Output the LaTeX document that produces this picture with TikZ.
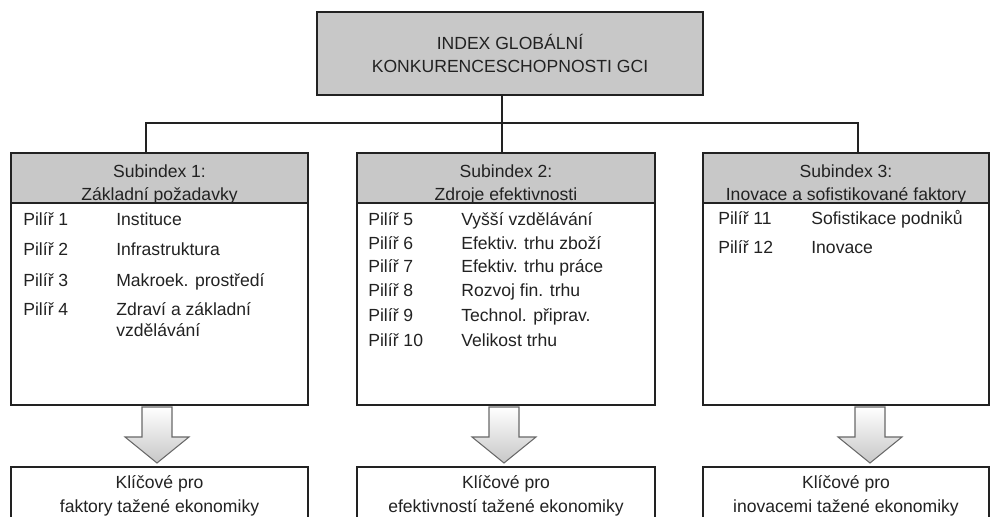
\documentclass[tikz,border=0pt]{standalone}
\usepackage{fontspec}
\setmainfont{Liberation Sans}
\usetikzlibrary{positioning,calc}
\definecolor{c0}{RGB}{34,34,34}
\definecolor{c1}{RGB}{200,200,200}
\definecolor{c2}{RGB}{105,105,105}
\tikzset{%
  box/.style={rectangle,draw=c0,line width=1.1pt,outer sep=0pt,inner sep=0pt,
    text=c0,align=center,font=\fontsize{10}{13.1}\selectfont},
  head/.style={box,fill=c1,minimum height=1cm,minimum width=#1},
  body/.style={box,fill=white,minimum height=4.04cm,minimum width=#1},
  key/.style={box,fill=white,minimum height=1.14cm,minimum width=#1,
    font=\fontsize{10}{13.7}\selectfont},
  htext/.style={inner sep=0pt,text=c0,align=center,font=\fontsize{10}{13.1}\selectfont},
  row/.style={anchor=base west,inner sep=0pt,text=c0,align=left,
    font=\fontsize{10}{13.7}\selectfont},
  link/.style={draw=c0,line width=1.1pt}
}
\NewDocumentCommand\pilrow{mm}{\makebox[1.86cm][l]{#1}#2}
\NewDocumentCommand\blkarrow{}{%
  \shadedraw[top color=white,bottom color=black!22,draw=c2,line width=0.6pt]
  (-0.30,0) -- (-0.30,-0.60) -- (-0.64,-0.60) -- (0,-1.12)
  -- (0.64,-0.60) -- (0.30,-0.60) -- (0.30,0) -- cycle;
}

\begin{document}
\begin{tikzpicture}
  \useasboundingbox (0,0) rectangle (19.82,-10.34);
  %% GCI
  \node[box,fill=c1,minimum width=7.72cm,minimum height=1.66cm] (gci) at (10.20,-1.07)
    {INDEX GLOBÁLNÍ\\KONKURENCESCHOPNOSTI GCI};
  %% Subindexes
  \node[head=5.94cm] (sub1) at (3.19,-3.56) {};
  \node[head=5.96cm] (sub2) at (10.12,-3.56) {};
  \node[head=5.72cm] (sub3) at (16.92,-3.56) {};
  \node[body=5.94cm,below=0pt of sub1] (body1) {};
  \node[body=5.96cm,below=0pt of sub2] (body2) {};
  \node[body=5.72cm,below=0pt of sub3] (body3) {};
  \node[htext] (t1) at ($(sub1.center)+(0,-0.12)$) {Subindex 1:\\Základní požadavky};
  \node[htext] (t2) at ($(sub2.center)+(0,-0.12)$) {Subindex 2:\\Zdroje efektivnosti};
  \node[htext] (t3) at ($(sub3.center)+(0,-0.12)$) {Subindex 3:\\Inovace a sofistikované faktory};
  %
  \node[row] (p1) at (0.46,-4.52) {\pilrow{Pilíř 1}{Instituce}};
  \node[row] (p2) at (0.46,-5.12) {\pilrow{Pilíř 2}{Infrastruktura}};
  \node[row] (p3) at (0.46,-5.74) {\pilrow{Pilíř 3}{Makroek. prostředí}};
  \node[row] (p4) at (0.46,-6.74) {\pilrow{Pilíř 4}{Zdraví a základní}\\[-1.7pt]\hspace*{1.86cm}vzdělávání};
  %
  \node[row] (p5) at (7.36,-4.52) {\pilrow{Pilíř 5}{Vyšší vzdělávání}};
  \node[row] (p6) at (7.36,-5.00) {\pilrow{Pilíř 6}{Efektiv. trhu zboží}};
  \node[row] (p7) at (7.36,-5.46) {\pilrow{Pilíř 7}{Efektiv. trhu práce}};
  \node[row] (p8) at (7.36,-5.94) {\pilrow{Pilíř 8}{Rozvoj fin. trhu}};
  \node[row] (p9) at (7.36,-6.44) {\pilrow{Pilíř 9}{Technol. připrav.}};
  \node[row] (p10) at (7.36,-6.94) {\pilrow{Pilíř 10}{Velikost trhu}};
  %
  \node[row] (p11) at (14.36,-4.50) {\pilrow{Pilíř 11}{Sofistikace podniků}};
  \node[row] (p12) at (14.36,-5.08) {\pilrow{Pilíř 12}{Inovace}};
  %% Connectors
  \coordinate (hub) at (10.04,-2.46);
  \coordinate (drop1) at (2.92,-2.46);
  \coordinate (drop3) at (17.16,-2.46);
  \draw[link] (gci.south -| hub) -- (sub2.north -| hub);
  \draw[link] (sub1.north -| drop1) -- (drop1) -- (drop3) -- (sub3.north -| drop3);
  %% Arrows
  \begin{scope}[shift={(3.14,-8.14)}]\blkarrow\end{scope}
  \begin{scope}[shift={(10.08,-8.14)}]\blkarrow\end{scope}
  \begin{scope}[shift={(17.40,-8.14)}]\blkarrow\end{scope}
  %% Key
  \node[key=5.94cm] (key1) at (3.19,-9.91) {Klíčové pro\\faktory tažené ekonomiky};
  \node[key=5.96cm] (key2) at (10.12,-9.91) {Klíčové pro\\efektivností tažené ekonomiky};
  \node[key=5.72cm] (key3) at (16.92,-9.91) {Klíčové pro\\inovacemi tažené ekonomiky};
\end{tikzpicture}
\end{document}
